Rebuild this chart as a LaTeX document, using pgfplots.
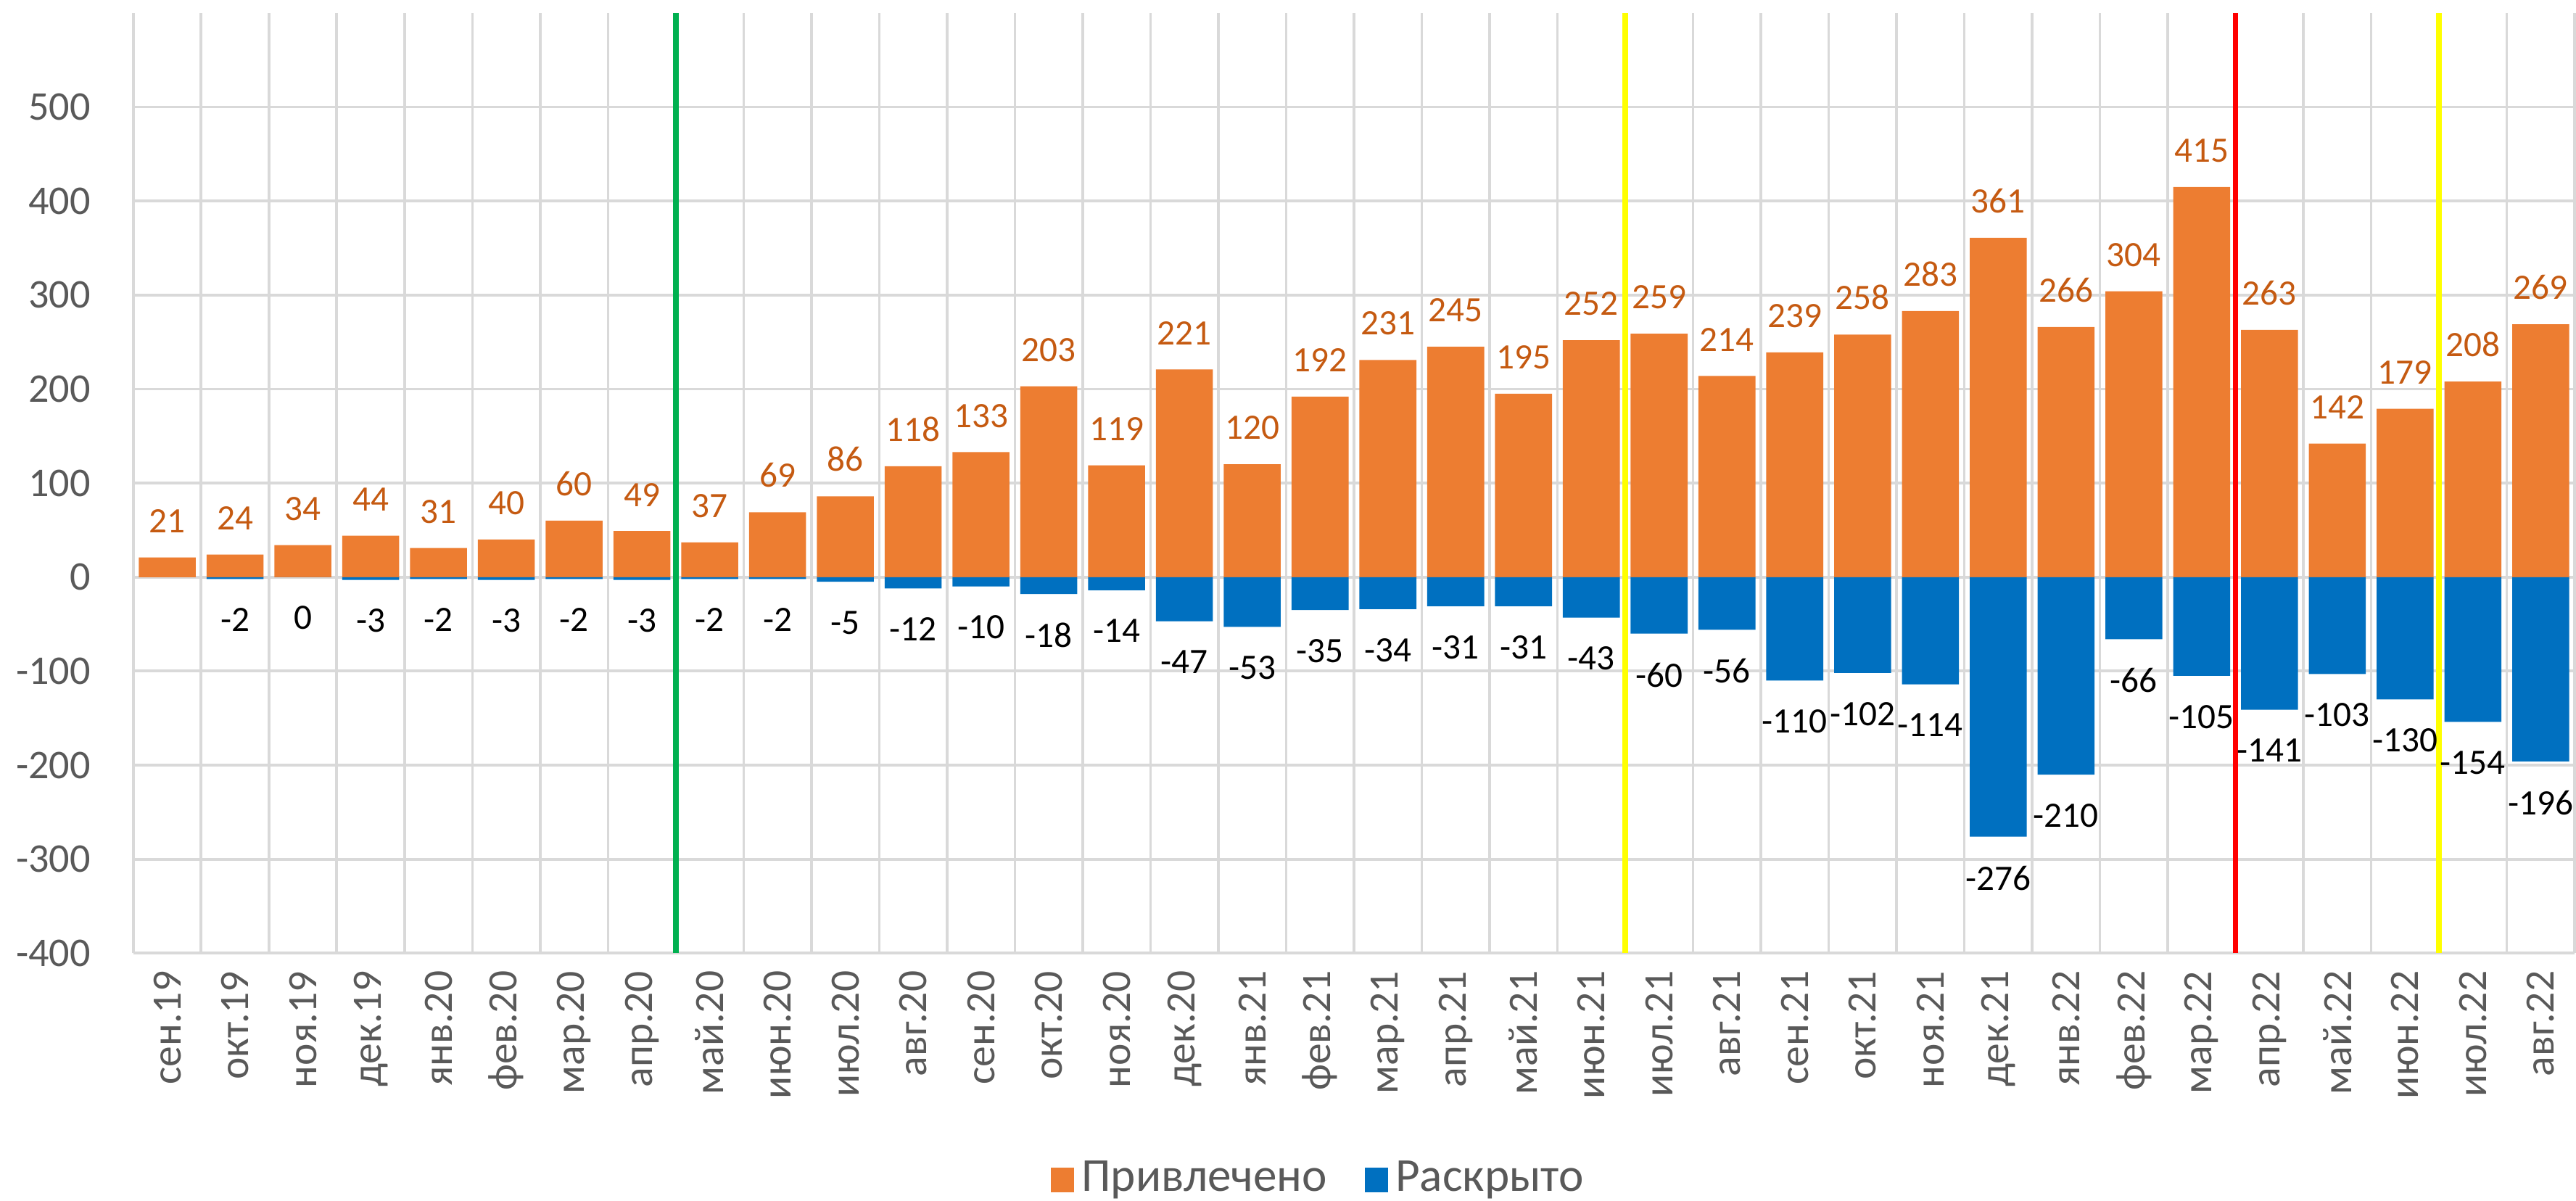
\documentclass[border=0pt]{standalone}
\usepackage{pgfplots}
\pgfplotsset{compat=1.18}
\usepackage{pgfplotstable}
\usepackage{fontspec}
\setmainfont{Carlito}

\definecolor{barOrange}{RGB}{237,125,49}
\definecolor{barBlue}{RGB}{0,112,192}
\definecolor{labOrange}{RGB}{197,90,17}
\definecolor{tickGray}{RGB}{89,89,89}
\definecolor{gridGray}{RGB}{217,217,217}
\definecolor{lineGreen}{RGB}{0,176,80}
\definecolor{lineYellow}{RGB}{255,255,0}
\definecolor{lineRed}{RGB}{255,0,0}

% month index, attracted, disclosed
\pgfplotstableread{
x  att  dis
0  21   nan
1  24   -2
2  34   0
3  44   -3
4  31   -2
5  40   -3
6  60   -2
7  49   -3
8  37   -2
9  69   -2
10 86   -5
11 118  -12
12 133  -10
13 203  -18
14 119  -14
15 221  -47
16 120  -53
17 192  -35
18 231  -34
19 245  -31
20 195  -31
21 252  -43
22 259  -60
23 214  -56
24 239  -110
25 258  -102
26 283  -114
27 361  -276
28 266  -210
29 304  -66
30 415  -105
31 263  -141
32 142  -103
33 179  -130
34 208  -154
35 269  -196
}\datatab

\begin{document}
\begin{tikzpicture}
\begin{axis}[
  scale only axis,
  width=17.06cm,
  height=6.57cm,
  ybar,
  bar width=0.84,
  xmin=-0.5, xmax=35.5,
  ymin=-400, ymax=600,
  xtick={0,...,35},
  xticklabels={сен.19,окт.19,ноя.19,дек.19,янв.20,фев.20,мар.20,апр.20,май.20,июн.20,июл.20,авг.20,сен.20,окт.20,ноя.20,дек.20,янв.21,фев.21,мар.21,апр.21,май.21,июн.21,июл.21,авг.21,сен.21,окт.21,ноя.21,дек.21,янв.22,фев.22,мар.22,апр.22,май.22,июн.22,июл.22,авг.22},
  minor xtick={-0.5,0.5,...,35.5},
  ytick={-400,-300,...,500},
  yticklabels={-400,-300,-200,-100,0,100,200,300,400,500},
  xticklabel style={rotate=90, anchor=east, font=\fontsize{8.3}{9}\selectfont, text=tickGray},
  yticklabel style={font=\fontsize{8.1}{9}\selectfont, text=tickGray, xshift=-5pt},
  major tick length=0pt,
  minor tick length=0pt,
  axis line style={draw=none},
  ymajorgrids=true,
  xminorgrids=true,
  xmajorgrids=false,
  grid style={draw=gridGray, line width=0.55pt},
  minor grid style={draw=gridGray, line width=0.55pt},
  /pgf/number format/assume math mode=true,
  legend style={at={(0.4865,-0.2414)}, anchor=center, draw=none, fill=none,
    inner sep=0pt, nodes={inner sep=1.5pt},
    font=\fontsize{9.4}{10}\selectfont, text=tickGray,
    /tikz/every even column/.append style={column sep=6pt}},
  legend columns=2,
  legend cell align=left,
]
\addplot[fill=barOrange, draw=none, bar shift=0pt,
  nodes near coords,
  every node near coord/.append style={font=\fontsize{7.1}{8}\selectfont, color=labOrange, anchor=south, inner sep=0pt, yshift=4.7pt},
  legend image code/.code={\fill[barOrange] (0pt,-2.45pt) rectangle (4.6pt,2.45pt);}]
  table[x=x, y=att] {\datatab};
\addlegendentry{Привлечено}
\addplot[fill=barBlue, draw=none, bar shift=0pt,
  nodes near coords,
  every node near coord/.append style={font=\fontsize{7.1}{8}\selectfont, color=black, anchor=north, inner sep=0pt, yshift=-5.6pt},
  legend image code/.code={\fill[barBlue] (0pt,-2.45pt) rectangle (4.6pt,2.45pt);}]
  table[x=x, y=dis] {\datatab};
\addlegendentry{Раскрыто}
% period markers
\addplot[sharp plot, forget plot, draw=lineGreen, line width=1.1pt] coordinates {(7.5,-400) (7.5,600)};
\addplot[sharp plot, forget plot, draw=lineYellow, line width=1.1pt] coordinates {(21.5,-400) (21.5,600)};
\addplot[sharp plot, forget plot, draw=lineRed, line width=1.1pt] coordinates {(30.5,-400) (30.5,600)};
\addplot[sharp plot, forget plot, draw=lineYellow, line width=1.1pt] coordinates {(33.5,-400) (33.5,600)};
\end{axis}
\pgfresetboundingbox
\path ([xshift=-0.932cm,yshift=-1.728cm]current axis.south west) rectangle ([xshift=0.01cm,yshift=0.091cm]current axis.north east);
\end{tikzpicture}
\end{document}
